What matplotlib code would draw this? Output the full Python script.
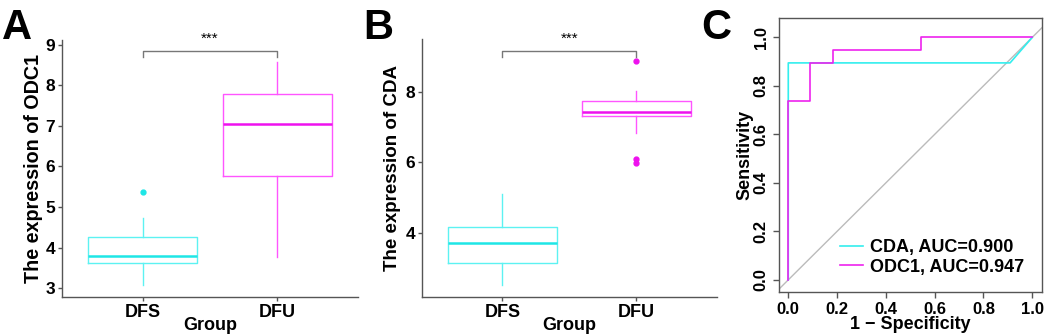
import numpy as np
import matplotlib.pyplot as plt
plt.rcParams["font.family"] = ["Liberation Sans", "DejaVu Sans"]

groups = ["DFS", "DFU"]
# box stats: low whisker, q1, median, q3, high whisker, outliers
odc1_stats = [[3.07, 3.61, 3.79, 4.27, 4.72, [5.36]],
              [3.76, 5.77, 7.04, 7.79, 8.57, []]]
cda_stats = [[2.52, 3.15, 3.72, 4.17, 5.10, []],
             [6.84, 7.30, 7.44, 7.74, 8.02, [8.87, 6.10, 5.97]]]

# ROC curves (1-specificity, sensitivity)
cda_fpr = [0.0, 0.0, 10/11, 1.0]
cda_tpr = [0.0, 17/19, 17/19, 1.0]
odc1_fpr = [0.0, 0.0, 1/11, 1/11, 2/11, 2/11, 6/11, 6/11, 1.0]
odc1_tpr = [0.0, 14/19, 14/19, 17/19, 17/19, 18/19, 18/19, 1.0, 1.0]

cyan_box = "#5cf2f2"
cyan_med = "#1ee6e6"
mag_box = "#ff55ff"
mag_med = "#ee11ee"
grey = "#555555"

fig = plt.figure(figsize=(10.52, 3.36), dpi=100)


def box_panel(rect, stats, ylim, yticks, ylabel, ylabel_size, ylabel_x,
              bracket_y, letter, letter_x):
    ax = fig.add_axes(rect)
    cols = [(cyan_box, cyan_med), (mag_box, mag_med)]
    for i, (s, (cb, cm)) in enumerate(zip(stats, cols)):
        st = dict(whislo=s[0], q1=s[1], med=s[2], q3=s[3], whishi=s[4], fliers=s[5])
        ax.bxp([st], positions=[i + 1], widths=0.81, showcaps=False,
               boxprops=dict(color=cb, lw=1.0),
               whiskerprops=dict(color=cb, lw=1.0),
               medianprops=dict(color=cm, lw=1.8),
               flierprops=dict(marker="o", markersize=3.5, markerfacecolor=cm,
                               markeredgecolor=cm))
    ax.set_xlim(0.4, 2.6)
    ax.set_ylim(*ylim)
    ax.set_yticks(yticks)
    ax.set_xticks([1, 2])
    ax.set_xticklabels(groups)
    for sp in ["top", "right"]:
        ax.spines[sp].set_visible(False)
    for sp in ["left", "bottom"]:
        ax.spines[sp].set_color(grey)
        ax.spines[sp].set_linewidth(1.0)
    ax.tick_params(colors=grey, labelcolor="black", length=3, width=1.0, pad=2)
    for lab in ax.get_xticklabels():
        lab.set_fontsize(13)
        lab.set_fontweight("bold")
    for lab in ax.get_yticklabels():
        lab.set_fontsize(12.5)
        lab.set_fontweight("bold")
    ax.set_xlabel("Group", fontsize=13, fontweight="bold", labelpad=-3)
    ax.set_ylabel(ylabel, fontsize=ylabel_size, fontweight="bold")
    ax.yaxis.set_label_coords(ylabel_x, 0.5)
    top, tick = bracket_y
    ax.plot([1, 1, 2, 2], [tick, top, top, tick], color="#777777", lw=1.0, clip_on=False)
    ax.text(1.5, top + (ylim[1] - ylim[0]) * 0.02, "***", ha="center", va="bottom",
            fontsize=11, clip_on=False)
    fig.text(letter_x, 0.975, letter, fontsize=30, fontweight="bold", va="top", ha="left")
    return ax


box_panel([0.0589, 0.1161, 0.2814, 0.765], odc1_stats, (2.78, 9.12),
          [3, 4, 5, 6, 7, 8, 9], "The expression of ODC1", 14.2, -0.063,
          (8.85, 8.70), "A", 0.002)
box_panel([0.4011, 0.1161, 0.2804, 0.768], cda_stats, (2.18, 9.5),
          [4, 6, 8], "The expression of CDA", 13.5, -0.07,
          (9.17, 8.98), "B", 0.345)

# ROC panel
ax = fig.add_axes([0.7405, 0.131, 0.25, 0.8155])
ax.axline((0, 0), (1, 1), color="#bbbbbb", lw=1.0)
ax.plot(cda_fpr, cda_tpr, color="#33eeee", lw=1.2, label="CDA, AUC=0.900")
ax.plot(odc1_fpr, odc1_tpr, color="#ee22ee", lw=1.2, label="ODC1, AUC=0.947")
ax.set_xlim(-0.038, 1.04)
ax.set_ylim(-0.05, 1.08)
ticks = [0.0, 0.2, 0.4, 0.6, 0.8, 1.0]
ax.set_xticks(ticks)
ax.set_yticks(ticks)
ax.set_xticklabels([f"{t:.1f}" for t in ticks], fontsize=12, fontweight="bold")
ax.set_yticklabels([f"{t:.1f}" for t in ticks], fontsize=12, fontweight="bold",
                   rotation=90, va="center")
for sp in ax.spines.values():
    sp.set_color(grey)
    sp.set_linewidth(1.0)
ax.tick_params(colors=grey, labelcolor="black", length=4, width=1.0)
ax.set_xlabel("1 \u2212 Specificity", fontsize=13, fontweight="bold", labelpad=-1)
ax.set_ylabel("Sensitivity", fontsize=13, fontweight="bold")
ax.yaxis.set_label_coords(-0.097, 0.5)
leg = ax.legend(loc="lower right", frameon=False, handlelength=1.3, handletextpad=0.4,
                labelspacing=0.15, bbox_to_anchor=(0.995, 0.0),
                prop=dict(size=13, weight="bold"))
fig.text(0.667, 0.975, "C", fontsize=30, fontweight="bold", va="top", ha="left")

fig.savefig("out.png", dpi=100)
